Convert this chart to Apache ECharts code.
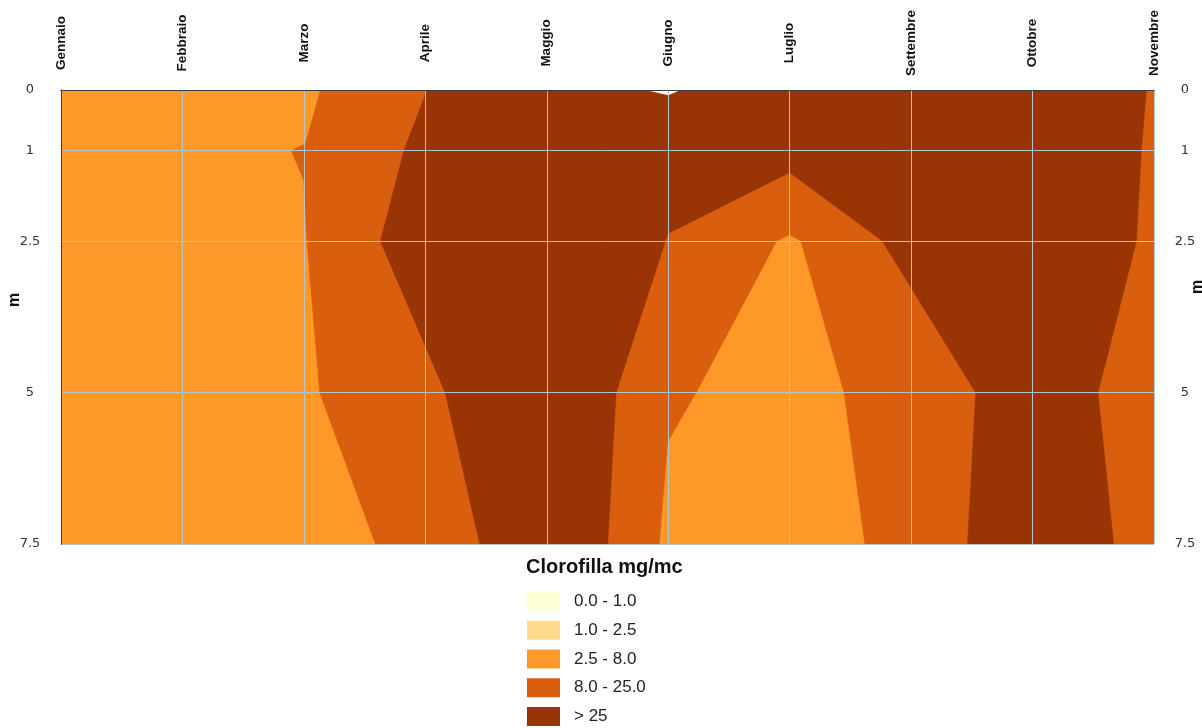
<!DOCTYPE html>
<html><head><meta charset="utf-8">
<script src="https://cdn.jsdelivr.net/npm/echarts@6/dist/echarts.min.js"></script>
<style>html,body{margin:0;padding:0;background:#fff}#c{width:1202px;height:728px}</style>
</head><body><div id="c"></div>
<script>
// ---- data ----
const months = ['Gennaio','Febbraio','Marzo','Aprile','Maggio','Giugno','Luglio','Settembre','Ottobre','Novembre'];
const depthTicks = [0, 1, 2.5, 5, 7.5];
const classNames = ['0.0 - 1.0', '1.0 - 2.5', '2.5 - 8.0', '8.0 - 25.0', '> 25'];
const classColors = ['#FFFFD4', '#FED98E', '#FE9929', '#D95F0E', '#993404'];

// isolines: [month index (fractional), depth in m]
const iso8Left   = [[2.133,0],[2.009,0.88],[1.891,1.0],[1.995,1.49],[2.02,2.5],[2.126,5.0],[2.585,7.5]];
const iso25Left  = [[3.01,0],[2.82,1.0],[2.626,2.5],[3.16,5.0],[3.444,7.5]];
const iso25Mid   = [[4.506,7.5],[4.575,5.0],[5.0,2.38],[6.0,1.37],[6.76,2.5],[7.528,5.0],[7.46,7.5]];
const iso8Mid    = [[4.93,7.5],[5.0,5.81],[5.262,4.9],[5.896,2.5],[6.0,2.40],[6.088,2.5],[6.444,5.0],[6.615,7.5]];
const iso25Right = [[8.941,0],[8.90,1.0],[8.859,2.5],[8.543,5.0],[8.672,7.5]];
const gapTop     = [[4.823,0],[5.0,0.083],[5.097,0]];

// ---- build class regions from the isolines ----
const xMax = months.length - 1;
const dMax = depthTicks[depthTicks.length - 1];
const regions = {
  '> 25': [[[0,0],[xMax,0],[xMax,dMax],[0,dMax]]],
  '8.0 - 25.0': [
    [[0,0]].concat(iso25Left, [[0,dMax]]),
    iso25Mid.slice(),
    iso25Right.concat([[xMax,dMax],[xMax,0]])
  ],
  '2.5 - 8.0': [
    [[0,0]].concat(iso8Left, [[0,dMax]]),
    iso8Mid.slice()
  ],
  '1.0 - 2.5': [],
  '0.0 - 1.0': []
};
const drawOrder = ['> 25', '8.0 - 25.0', '2.5 - 8.0', '1.0 - 2.5', '0.0 - 1.0'];

function polySeries(name, polys, color) {
  return {
    type: 'custom',
    name: name,
    coordinateSystem: 'cartesian2d',
    xAxisIndex: 0, yAxisIndex: 0,
    z: 2,
    silent: true,
    animation: false,
    clip: true,
    itemStyle: { color: color },
    data: polys.map((p, i) => [i]),
    renderItem: function (params, api) {
      const pts = polys[params.dataIndex].map(p => api.coord(p));
      return { type: 'polygon', shape: { points: pts }, style: { fill: color, stroke: color, lineWidth: 0.5 } };
    }
  };
}

const series = drawOrder.map(n => polySeries(n, regions[n], classColors[classNames.indexOf(n)]));
series.push(polySeries('gap', [gapTop], '#FFFFFF'));

const gridLineColor = '#b0c6ca';
const borderColor = '#3d3d3d';
const chart = echarts.init(document.getElementById('c'), null, { renderer: 'canvas' });
chart.setOption({
  backgroundColor: '#ffffff',
  animation: false,
  grid: { left: 61, right: 48, top: 90, bottom: 184, containLabel: false },
  title: {
    text: 'Clorofilla mg/mc', left: 526, top: 557, padding: 0,
    textStyle: { fontSize: 20, fontWeight: 'bold', color: '#111', fontFamily: '"Liberation Sans", Arial, sans-serif' }
  },
  legend: {
    data: classNames,
    orient: 'vertical',
    left: 527, top: 592,
    itemWidth: 33, itemHeight: 19, itemGap: 9.75,
    icon: 'rect',
    selectedMode: false,
    padding: 0,
    textStyle: { fontSize: 17, color: '#222', fontFamily: '"Liberation Sans", Arial, sans-serif', padding: [0, 0, 0, 9] }
  },
  xAxis: [
    {
      type: 'value', min: 0, max: xMax, interval: 1, position: 'top', z: 10,
      axisLine: { show: true, lineStyle: { color: borderColor, width: 1 } },
      axisTick: { show: false },
      axisLabel: {
        rotate: 90, margin: 47, align: 'center', verticalAlign: 'middle',
        fontSize: 13.5, fontWeight: 'bold', color: '#111', fontFamily: '"Liberation Sans", Arial, sans-serif',
        formatter: v => months[v] || ''
      },
      splitLine: { show: true, lineStyle: { color: gridLineColor, width: 1 } }
    },
    {
      type: 'value', min: 0, max: xMax, interval: 1, position: 'bottom', z: 10,
      axisLine: { show: true, lineStyle: { color: borderColor, width: 1 } },
      axisTick: { show: false }, axisLabel: { show: false }, splitLine: { show: false }
    }
  ],
  yAxis: [
    {
      type: 'value', min: 0, max: dMax, inverse: true, position: 'left', z: 10,
      axisLine: { show: true, lineStyle: { color: borderColor, width: 1 } },
      axisTick: { show: false, customValues: depthTicks },
      axisLabel: { customValues: depthTicks, margin: 31, align: 'center', fontSize: 13, color: '#333', fontFamily: '"DejaVu Sans", Verdana, sans-serif' },
      splitLine: { show: true, lineStyle: { color: gridLineColor, width: 1 } }
    },
    {
      type: 'value', min: 0, max: dMax, inverse: true, position: 'right', z: 10,
      axisLine: { show: true, lineStyle: { color: borderColor, width: 1 } },
      axisTick: { show: false, customValues: depthTicks },
      axisLabel: { customValues: depthTicks, margin: 31, align: 'center', fontSize: 13, color: '#333', fontFamily: '"DejaVu Sans", Verdana, sans-serif' },
      splitLine: { show: false }
    }
  ],
  graphic: [
    { type: 'text', x: 15, y: 300, rotation: Math.PI / 2, silent: true,
      style: { text: 'm', fontSize: 16, fontWeight: 'bold', fontFamily: '"Liberation Sans", Arial, sans-serif', fill: '#111', align: 'center', verticalAlign: 'middle' } },
    { type: 'text', x: 1198, y: 287, rotation: Math.PI / 2, silent: true,
      style: { text: 'm', fontSize: 16, fontWeight: 'bold', fontFamily: '"Liberation Sans", Arial, sans-serif', fill: '#111', align: 'center', verticalAlign: 'middle' } }
  ],
  series: series
});
</script>
</body></html>
